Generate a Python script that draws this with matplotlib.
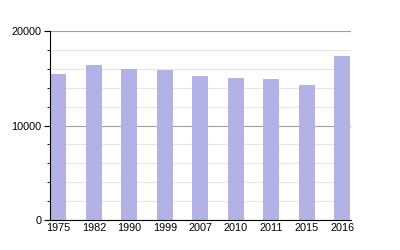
import numpy as np
import matplotlib.pyplot as plt
from matplotlib.ticker import MultipleLocator

plt.rcParams['font.family'] = ['Liberation Sans', 'DejaVu Sans']

years = ["1975", "1982", "1990", "1999", "2007", "2010", "2011", "2015", "2016"]
population = [15450, 16400, 15980, 15870, 15240, 15030, 14900, 14290, 17390]

fig = plt.figure(figsize=(4, 2.5), dpi=100)
ax = fig.add_axes([0.125, 0.12, 0.752, 0.756])

x = np.arange(len(years))
ax.bar(x, population, width=0.45, color="#b2b2e6", zorder=2)

ax.set_xlim(-0.24, len(years) - 1 + 0.24)
ax.set_ylim(0, 20000)
ax.set_xticks(x)
ax.set_xticklabels(years)
ax.yaxis.set_major_locator(MultipleLocator(10000))
ax.yaxis.set_minor_locator(MultipleLocator(2000))

# grid: darker for major, faint for minor
ax.grid(axis="y", which="major", color="#a0a0a0", linewidth=0.8, zorder=0)
ax.grid(axis="y", which="minor", color="#e6e6e6", linewidth=0.8, zorder=0)

for side in ["top", "right"]:
    ax.spines[side].set_visible(False)
ax.spines["left"].set_linewidth(0.8)
ax.spines["bottom"].set_linewidth(0.8)

ax.tick_params(axis="x", length=0, labelsize=7.8, pad=2)
ax.tick_params(axis="y", which="major", length=4, width=0.8, labelsize=7.8, pad=2)
ax.tick_params(axis="y", which="minor", length=2, width=0.6)

fig.savefig("out.png", dpi=100)
